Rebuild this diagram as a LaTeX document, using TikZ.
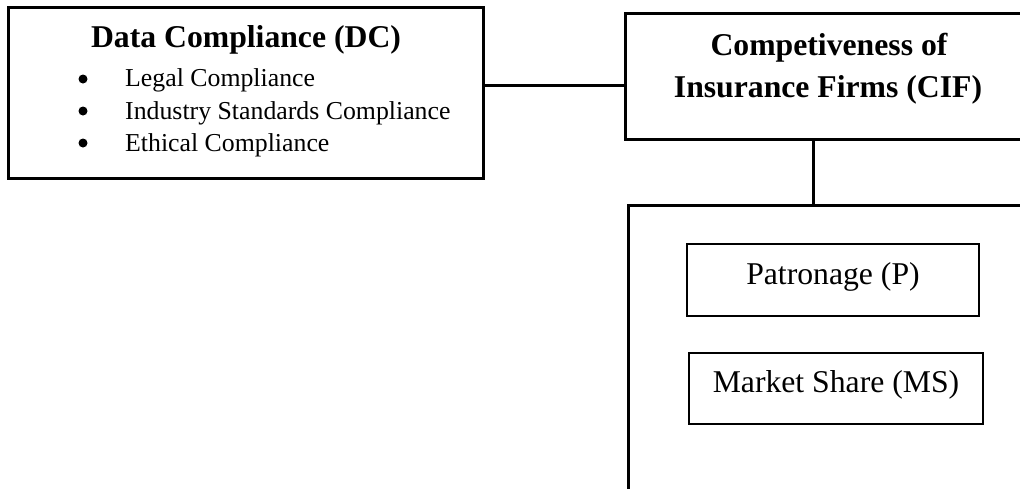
\documentclass[tikz,border=0pt]{standalone}
\usepackage{fontspec}
\setmainfont{Liberation Serif}
\begin{document}
\begin{tikzpicture}[x=1pt,y=-1pt,
 box/.style={draw, line width=3pt, inner sep=0pt, outer sep=0pt, anchor=north west},
 inbox/.style={draw, line width=2pt, inner sep=0pt, outer sep=0pt, anchor=north west, font=\fontsize{31.7}{36}\selectfont, text height=24pt, text depth=16pt},
 head/.style={font=\bfseries\fontsize{31.7}{36}\selectfont, anchor=base, inner sep=0pt},
 item/.style={font=\fontsize{25.8}{30}\selectfont, anchor=base west, inner sep=0pt},
 dotmark/.style={circle, fill, inner sep=0pt, minimum size=9pt},
 link/.style={line width=3pt}]
\useasboundingbox (0,0) rectangle (1020,488);
\clip (0,0) rectangle (1020,488);
% boxes
\node[box, minimum width=475pt, minimum height=171pt] (dc) at (8,7) {};
\node[box, minimum width=420pt, minimum height=126pt] (cif) at (625,13) {};
\node[box, minimum width=420pt, minimum height=320pt] (grp) at (628,205) {};
\node[inbox, minimum width=292pt, minimum height=72pt] (p) at (687,244) {Patronage (P)};
\node[inbox, minimum width=294pt, minimum height=71pt] (ms) at (689,353) {Market Share (MS)};
% texts
\node[head] (dct) at (246,47) {Data Compliance (DC)};
\node[dotmark] (b1) at (83,79) {};
\node[item] (i1) at (125,86) {Legal Compliance};
\node[dotmark] (b2) at (83,111) {};
\node[item] (i2) at (125,119) {Industry Standards Compliance};
\node[dotmark] (b3) at (83,143) {};
\node[item] (i3) at (125,151) {Ethical Compliance};
\node[head] (cift1) at (829,55) {Competiveness of};
\node[head] (cift2) at (828,97) {Insurance Firms (CIF)};
% connectors
\coordinate (hy) at (0,85);
\draw[link] (dc.east |- hy) -- (cif.west |- hy);
\coordinate (vx) at (813,0);
\draw[link] (cif.south -| vx) -- (grp.north -| vx);
\end{tikzpicture}
\end{document}
